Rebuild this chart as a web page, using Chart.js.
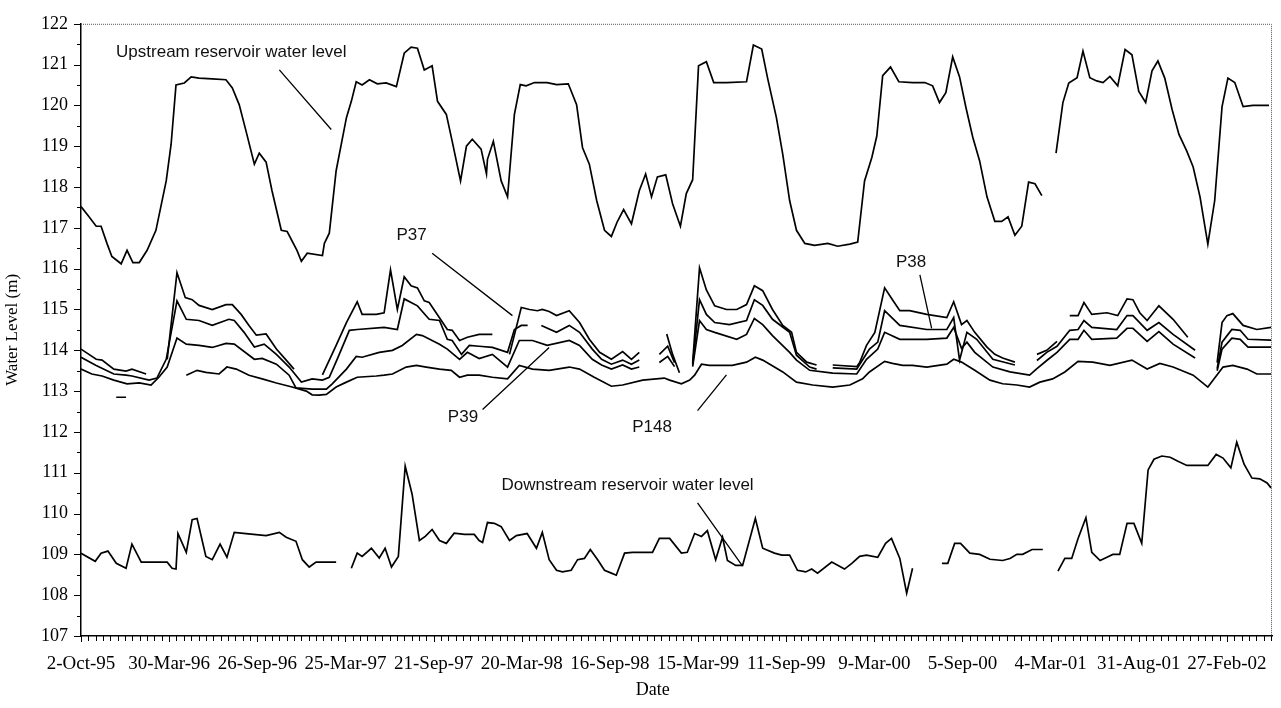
<!DOCTYPE html>
<html>
<head>
<meta charset="utf-8">
<script src="https://cdn.jsdelivr.net/npm/chart.js@4.4.0/dist/chart.umd.min.js"></script>
<style>
    html, body { margin: 0; padding: 0; background: #fff; }
</style>
</head>
<body>
<canvas id="levelChart" width="1281" height="708"></canvas>
<script>
// --- Dữ liệu: ngày tính từ 2-Oct-95, mực nước (m); null = không có số liệu ---
const upDays = [0,16,31,41,53,63,82,94,106,119,135,153,174,184,194,211,225,241,268,296,309,323,337,354,364,378,390,409,421,441,450,462,493,497,507,521,542,552,562,574,589,605,623,644,660,674,687,701,717,728,746,758,775,787,799,817,828,830,842,858,871,885,897,909,926,952,971,995,1012,1024,1038,1053,1069,1083,1095,1108,1124,1140,1153,1165,1177,1194,1208,1224,1236,1249,1261,1277,1292,1318,1359,1373,1390,1402,1420,1433,1447,1461,1478,1498,1525,1545,1570,1586,1600,1615,1625,1637,1653,1670,1698,1723,1739,1753,1766,1780,1794,1807,1821,1835,1850,1866,1880,1893,1907,1921,1935,1948,1962,1976,1991,2005,2017,2034,2046,2060,2074,2087,2101,2117,2132,2146,2160,2174,2187,2199,2213,2228,2242,2258,2271,2285,2301,2315,2330,2342,2356,2373,2393,2426];
const upLevel = [117.52,117.28,117.04,117.04,116.62,116.3,116.12,116.45,116.15,116.15,116.45,116.94,118.15,119.05,120.5,120.55,120.7,120.67,120.65,120.63,120.43,120.02,119.37,118.56,118.83,118.61,117.91,116.94,116.91,116.45,116.18,116.38,116.32,116.62,116.87,118.4,119.7,120.1,120.58,120.5,120.63,120.53,120.55,120.46,121.28,121.43,121.4,120.87,120.97,120.1,119.78,119.12,118.15,119.0,119.17,118.93,118.32,118.68,119.12,118.15,117.76,119.78,120.51,120.48,120.56,120.56,120.51,120.53,120.02,118.97,118.56,117.67,116.94,116.79,117.15,117.45,117.1,117.91,118.32,117.76,118.25,118.3,117.59,117.04,117.84,118.18,120.97,121.07,120.56,120.56,120.58,121.48,121.38,120.67,119.7,118.8,117.67,116.94,116.62,116.57,116.62,116.55,116.6,116.65,118.15,118.73,119.25,120.73,120.94,120.58,120.56,120.56,120.48,120.07,120.31,121.19,120.7,119.95,119.22,118.64,117.76,117.16,117.16,117.27,116.82,117.04,118.12,118.08,117.79,null,118.83,120.07,120.55,120.68,121.33,120.68,120.6,120.56,120.71,120.48,121.37,121.24,120.34,120.07,120.85,121.09,120.67,119.9,119.29,118.88,118.49,117.76,116.6,117.67,119.97,120.67,120.56,119.97,120.0,120.0];

const downDays = [0,29,41,55,72,92,104,123,176,186,194,198,215,227,237,255,268,284,298,313,337,378,405,419,439,452,466,480,521,531,552,564,574,593,609,621,634,648,662,676,691,703,717,732,746,762,783,803,813,820,830,844,858,875,889,911,930,942,956,971,983,1001,1014,1028,1040,1055,1069,1083,1093,1110,1126,1167,1181,1202,1226,1238,1253,1267,1279,1296,1310,1320,1337,1351,1377,1392,1416,1431,1447,1463,1480,1492,1504,1533,1559,1574,1590,1604,1627,1643,1655,1672,1686,1698,1720,1758,1770,1784,1796,1815,1835,1856,1882,1897,1911,1923,1942,1964,1985,1995,2009,2023,2036,2052,2064,2081,2095,2107,2121,2136,2150,2166,2179,2191,2207,2224,2240,2258,2301,2318,2332,2348,2360,2375,2391,2407,2422,2430];
const downLevel = [109.03,108.83,109.03,109.08,108.78,108.66,109.25,108.81,108.81,108.66,108.64,109.51,109.05,109.85,109.88,108.95,108.87,109.25,108.93,109.54,109.51,109.46,109.54,109.42,109.32,108.87,108.69,108.81,108.81,null,108.66,109.03,108.95,109.15,108.91,109.15,108.69,108.95,111.16,110.48,109.34,109.44,109.61,109.34,109.27,109.52,109.49,109.49,109.34,109.29,109.78,109.76,109.68,109.34,109.46,109.51,109.15,109.54,108.87,108.61,108.57,108.61,108.87,108.9,109.12,108.87,108.61,108.54,108.49,109.03,109.05,109.05,109.39,109.39,109.03,109.05,109.51,109.44,109.58,108.87,109.42,108.85,108.73,108.73,109.88,109.15,109.03,108.98,108.98,108.61,108.57,108.64,108.54,108.81,108.64,108.78,108.95,108.98,108.93,109.27,109.39,108.9,108.05,108.66,null,108.78,108.78,109.27,109.27,109.03,109.0,108.88,108.85,108.9,109.0,109.0,109.12,109.12,null,108.59,108.9,108.9,109.39,109.9,109.05,108.85,108.93,109.0,109.0,109.76,109.76,109.27,111.07,111.33,111.41,111.38,111.28,111.18,111.18,111.45,111.36,111.12,111.75,111.21,110.87,110.85,110.75,110.63];

const p37Days = [0,31,43,67,92,104,133,150,176,196,213,227,241,268,296,309,327,343,358,378,399,419,435,455,493,521,542,564,574,603,619,632,646,660,674,687,701,711,732,748,758,773,789,813,840,860,875,899,916,932,942,956,971,997,1018,1038,1059,1083,1106,1124,1140,1150,1196,1208,1222,1235,1249,1263,1277,1294,1318,1339,1359,1375,1392,1412,1433,1451,1461,1482,1502,1515,1535,1584,1590,1604,1621,1641,1657,1672,1692,1727,1768,1782,1798,1809,1825,1850,1866,1882,1907,1925,1952,1972,1993,2010,2019,2036,2048,2064,2095,2117,2136,2148,2162,2177,2201,2230,2260,2290,2320,2330,2340,2352,2373,2401,2430];
const p37Level = [114.03,113.78,113.76,113.54,113.49,113.54,113.42,null,113.78,115.9,115.29,115.24,115.1,115.0,115.12,115.12,114.88,114.61,114.37,114.4,114.03,113.76,113.54,null,113.4,114.12,114.68,115.19,114.88,114.88,114.92,115.97,115.0,115.8,115.58,115.53,115.21,115.17,114.8,114.51,114.49,114.24,114.32,114.39,114.39,null,113.9,115.05,115.0,114.97,115.0,114.95,114.85,114.97,114.68,114.27,113.95,113.78,113.97,113.78,113.95,null,114.4,113.9,113.45,null,113.7,116.02,115.48,115.09,115.0,115.0,115.12,115.58,115.46,115.0,114.61,114.44,113.95,113.71,113.64,null,113.64,113.6,113.7,114.12,114.44,115.53,115.24,114.97,114.97,114.88,114.8,115.19,114.63,114.73,114.44,114.08,113.9,113.81,113.71,null,113.9,114.0,114.22,null,114.85,114.85,115.17,114.88,114.92,114.85,115.26,115.24,114.92,114.73,115.09,114.76,114.32,null,113.7,114.68,114.85,114.9,114.61,114.51,114.56];

const p38Days = [0,31,67,92,104,139,155,174,196,215,241,268,302,313,333,354,374,399,425,450,472,493,507,523,548,564,619,646,660,687,711,732,748,758,777,793,813,840,871,885,899,912,925,940,971,997,1018,1044,1063,1083,1106,1124,1140,1150,1181,1198,1212,1230,1249,1263,1277,1294,1324,1359,1375,1392,1412,1447,1461,1488,1502,1515,1535,1584,1610,1627,1641,1672,1727,1768,1782,1794,1809,1829,1862,1907,1925,1952,1972,1993,2019,2036,2048,2064,2115,2136,2148,2177,2201,2230,2275,2295,2320,2330,2350,2367,2383,2430];
const p38Level = [113.83,113.63,113.42,113.39,113.37,113.27,113.32,113.78,115.21,114.76,114.73,114.61,114.76,114.73,114.44,114.08,114.15,113.9,113.59,113.22,113.3,113.27,113.34,113.78,114.49,114.51,114.56,114.51,115.26,115.09,114.76,114.73,114.27,114.24,113.9,114.12,114.1,114.07,113.95,114.51,114.61,114.61,null,114.61,114.44,114.61,114.44,114.03,113.78,113.66,113.76,113.66,113.76,null,113.9,114.1,113.7,null,113.65,115.24,114.88,114.68,114.63,114.73,115.24,115.1,114.76,114.44,113.88,113.59,113.54,null,113.57,113.54,114.03,114.2,114.97,114.61,114.51,114.51,114.8,113.76,114.44,114.27,113.78,113.64,null,113.75,113.95,114.1,114.49,114.51,114.73,114.56,114.51,114.85,114.85,114.49,114.68,114.39,114.0,null,113.55,114.2,114.51,114.49,114.27,114.25];

const p39Days = [0,22,43,67,94,119,143,159,176,196,215,241,268,296,313,354,370,399,425,439,472,501,513,542,562,574,609,636,656,685,697,732,748,773,789,813,840,871,895,922,952,997,1018,1044,1063,1083,1106,1124,1140,1150,1181,1198,1212,1230,1249,1263,1277,1294,1339,1359,1375,1392,1412,1447,1461,1488,1535,1584,1604,1627,1641,1672,1727,1768,1782,1798,1809,1825,1862,1897,1937,1952,1972,1993,2019,2036,2048,2064,2115,2136,2148,2177,2201,2230,2275,2295,2320,2330,2350,2367,2383,2430];
const p39Level = [113.54,113.42,113.37,113.27,113.18,113.2,113.15,113.34,113.59,114.3,114.15,114.12,114.07,114.17,114.15,113.78,113.8,113.66,113.39,113.08,113.05,113.05,113.18,113.54,113.85,113.83,113.95,114.0,114.12,114.39,114.36,114.15,114.03,113.78,113.95,113.8,113.9,113.59,114.24,114.24,114.12,114.24,114.12,113.78,113.64,113.54,113.64,113.54,113.59,null,113.7,113.85,113.6,null,113.6,114.73,114.51,114.44,114.27,114.39,114.78,114.63,114.36,113.95,113.76,113.51,113.44,113.42,113.78,114.03,114.44,114.27,114.27,114.3,114.56,114.05,114.2,113.95,113.59,113.47,113.39,113.55,113.75,113.95,114.27,114.27,114.49,114.27,114.3,114.54,114.54,114.22,114.46,114.15,113.81,null,113.5,114.03,114.3,114.27,114.08,114.08];

const p148Days = [72,92,140,215,237,255,282,298,317,343,370,399,431,460,472,486,501,521,542,564,603,619,636,664,685,705,732,756,773,789,813,840,871,895,922,956,997,1018,1048,1083,1106,1147,1191,1202,1226,1243,1253,1267,1283,1330,1359,1377,1392,1433,1461,1494,1535,1570,1596,1610,1641,1657,1678,1698,1727,1768,1782,1798,1825,1856,1882,1911,1937,1958,1984,2009,2036,2066,2101,2146,2177,2203,2230,2271,2301,2332,2352,2381,2401,2430];
const p148Level = [112.85,112.85,null,113.39,113.51,113.46,113.42,113.59,113.54,113.39,113.3,113.2,113.1,113.0,112.91,112.9,112.92,113.1,113.22,113.34,113.37,113.39,113.42,113.59,113.63,113.59,113.54,113.51,113.34,113.39,113.39,113.34,113.3,113.63,113.54,113.51,113.59,113.54,113.34,113.12,113.15,113.27,113.32,113.27,113.18,113.27,113.39,113.66,113.63,113.63,113.71,113.83,113.76,113.47,113.22,113.15,113.1,113.15,113.3,113.47,113.73,113.68,113.63,113.63,113.59,113.66,113.78,113.71,113.51,113.27,113.18,113.15,113.1,113.22,113.3,113.47,113.73,113.71,113.63,113.76,113.54,113.68,113.59,113.39,113.1,113.59,113.63,113.54,113.42,113.42];

// --- Trục ---
const dayMin = 0;
const dayMax = 2432;
const dayStep = 180;      // nhãn trục X mỗi 180 ngày
const minorDayStep = 15;  // vạch nhỏ trục X
const levelMin = 107;
const levelMax = 122;

// --- Chú thích trên biểu đồ (toạ độ dữ liệu: ngày, mực nước) ---
const noteTexts = ['Upstream reservoir water level', 'P37', 'P38', 'P39', 'P148', 'Downstream reservoir water level'];
const noteDays = [307, 675, 1695, 780, 1166, 1116];
const noteLevels = [121.31, 116.82, 116.16, 112.37, 112.11, 110.70];
const pointerFrom = [[405, 120.87], [717, 116.38], [1713, 115.85], [820, 112.55], [1259, 112.52], [1259, 110.26]];
const pointerTo = [[511, 119.41], [881, 114.85], [1737, 114.54], [956, 114.07], [1318, 113.40], [1351, 108.71]];

const START = Date.UTC(1995, 9, 2);
const MONTHS = ['Jan', 'Feb', 'Mar', 'Apr', 'May', 'Jun', 'Jul', 'Aug', 'Sep', 'Oct', 'Nov', 'Dec'];

function dayLabel(d) {
    const t = new Date(START + d * 86400000);
    return t.getUTCDate() + '-' + MONTHS[t.getUTCMonth()] + '-' + String(t.getUTCFullYear()).slice(2);
}

function toPoints(days, levels) {
    return days.map((d, i) => ({ x: d, y: levels[i] }));
}

function lineSet(label, days, levels) {
    return {
        label: label,
        data: toPoints(days, levels),
        borderColor: '#000',
        borderWidth: 1.7,
        pointRadius: 0,
        tension: 0,
        fill: false,
        spanGaps: false
    };
}

const serif = '"Liberation Serif", "Times New Roman", serif';

// --- Plugin: vạch nhỏ, khung chấm, chú thích ---
const extrasPlugin = {
    id: 'extras',
    afterDraw(chart) {
        const ctx = chart.ctx;
        const xs = chart.scales.x;
        const ys = chart.scales.y;
        const area = chart.chartArea;

        ctx.save();
        // khung trên + phải (chấm)
        ctx.strokeStyle = '#555';
        ctx.lineWidth = 1;
        ctx.setLineDash([1, 1]);
        ctx.beginPath();
        ctx.moveTo(area.left, area.top + 0.5);
        ctx.lineTo(area.right - 0.5, area.top + 0.5);
        ctx.lineTo(area.right - 0.5, area.bottom);
        ctx.stroke();
        ctx.setLineDash([]);

        // vạch trục X
        ctx.strokeStyle = '#000';
        ctx.lineWidth = 1;
        ctx.beginPath();
        for (let d = dayMin; d <= dayMax; d += minorDayStep) {
            const px = Math.round(xs.getPixelForValue(d)) + 0.5;
            ctx.moveTo(px, area.bottom);
            ctx.lineTo(px, area.bottom + (d % dayStep === 0 ? 6 : 5));
        }
        // vạch trục Y
        for (let v = levelMin; v <= levelMax; v += 0.5) {
            const py = Math.round(ys.getPixelForValue(v)) + 0.5;
            const len = Number.isInteger(v) ? 7 : 4;
            ctx.moveTo(area.left - len, py);
            ctx.lineTo(area.left, py);
        }
        ctx.stroke();

        // đường chỉ dẫn
        ctx.lineWidth = 1.3;
        ctx.beginPath();
        pointerFrom.forEach((p, i) => {
            ctx.moveTo(xs.getPixelForValue(p[0]), ys.getPixelForValue(p[1]));
            ctx.lineTo(xs.getPixelForValue(pointerTo[i][0]), ys.getPixelForValue(pointerTo[i][1]));
        });
        ctx.stroke();

        // chữ chú thích
        ctx.fillStyle = '#111';
        ctx.font = '17px "Liberation Sans", Arial, sans-serif';
        ctx.textAlign = 'center';
        ctx.textBaseline = 'middle';
        noteTexts.forEach((t, i) => {
            ctx.fillText(t, xs.getPixelForValue(noteDays[i]), ys.getPixelForValue(noteLevels[i]));
        });

        // tên trục X
        ctx.fillStyle = '#000';
        ctx.font = '18px ' + serif;
        ctx.fillText('Date', area.left + (area.right - area.left) * 0.48, chart.height - 18);
        ctx.restore();
    }
};

new Chart(document.getElementById('levelChart'), {
    type: 'line',
    data: {
        datasets: [
            lineSet('Upstream reservoir water level', upDays, upLevel),
            lineSet('P37', p37Days, p37Level),
            lineSet('P38', p38Days, p38Level),
            lineSet('P39', p39Days, p39Level),
            lineSet('P148', p148Days, p148Level),
            lineSet('Downstream reservoir water level', downDays, downLevel)
        ]
    },
    options: {
        responsive: false,
        animation: false,
        layout: { padding: { top: 18, right: 9, left: 0, bottom: 0 } },
        scales: {
            x: {
                type: 'linear',
                min: dayMin,
                max: dayMax,
                grid: { display: false, drawTicks: false },
                border: { display: true, color: '#000', width: 1.5 },
                ticks: {
                    stepSize: dayStep,
                    autoSkip: false,
                    maxRotation: 0,
                    includeBounds: false,
                    padding: 17,
                    color: '#000',
                    font: { family: serif, size: 19 },
                    callback: (v) => dayLabel(v)
                },
                afterFit: (scale) => {
                    scale.height = 72;
                    scale.paddingLeft = 0;
                    scale.paddingRight = 0;
                }
            },
            y: {
                min: levelMin,
                max: levelMax,
                grid: { display: false, drawTicks: false },
                border: { display: true, color: '#000', width: 1.5 },
                ticks: {
                    stepSize: 1,
                    padding: 13,
                    color: '#000',
                    font: { family: serif, size: 18 }
                },
                title: {
                    display: true,
                    text: 'Water Level (m)',
                    color: '#000',
                    font: { family: serif, size: 17 },
                    padding: { top: 2, bottom: 0 }
                },
                afterFit: (scale) => { scale.width = 81; }
            }
        },
        plugins: {
            legend: { display: false },
            tooltip: { enabled: false }
        }
    },
    plugins: [extrasPlugin]
});
</script>
</body>
</html>
